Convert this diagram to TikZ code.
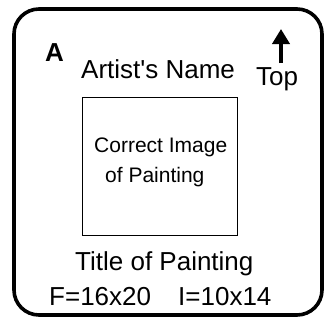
\documentclass[tikz,border=0pt]{standalone}
\usepackage{fontspec}
\setmainfont{Liberation Sans}
\newfontfamily\plainfont{Liberation Sans}
\usetikzlibrary{arrows.meta}
\begin{document}
\begin{tikzpicture}[x=1pt,y=-1pt,
  big/.style={inner sep=0pt,anchor=base west,font=\fontsize{26}{26}\selectfont},
  small/.style={inner sep=0pt,anchor=base west,font=\fontsize{21}{21}\selectfont},
  frame/.style={line width=3.6pt,rounded corners=25pt},
  imgbox/.style={draw,line width=0.8pt}]
\useasboundingbox (0,0) rectangle (324,322);
\draw[frame] (14,9) rectangle (322,315);
\node[imgbox,minimum width=155pt,minimum height=138pt,anchor=north west] (img) at (82,97) {};
\node[big,font=\fontsize{26}{26}\selectfont\bfseries] (lbl) at (45,61) {A};
\node[big,font=\plainfont\fontsize{26}{26}\selectfont] (artist) at (81,78) {Artist's Name};
\node[big] (top) at (256,85) {Top};
\coordinate (tail) at (281,63);
\coordinate (tip) at (281,29);
\draw[line width=4pt,-{Triangle[width=17pt,length=15pt]}] (tail) -- (tip);
\node[small] (l1) at (94,152) {Correct Image};
\node[small] (l2) at (105,182) {of Painting};
\node[big] (title) at (75,270) {Title of Painting};
\node[big] (f) at (49,305) {F=16x20};
\node[big] (i) at (178,305) {I=10x14};
\end{tikzpicture}
\end{document}
